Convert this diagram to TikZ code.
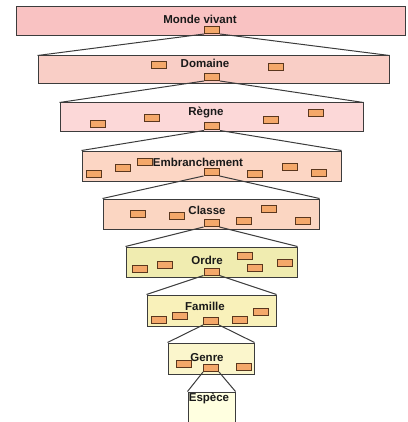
\documentclass[tikz,border=0pt]{standalone}
\usepackage{fontspec}
\setmainfont{Liberation Sans}
\definecolor{cMonde}{RGB}{249,194,194}
\definecolor{cDom}{RGB}{249,206,198}
\definecolor{cReg}{RGB}{252,216,216}
\definecolor{cEmb}{RGB}{252,214,196}
\definecolor{cCla}{RGB}{251,214,194}
\definecolor{cOrd}{RGB}{240,236,176}
\definecolor{cFam}{RGB}{249,241,186}
\definecolor{cGen}{RGB}{251,246,204}
\definecolor{cEsp}{RGB}{255,255,224}
\definecolor{cBox}{RGB}{244,168,106}
\definecolor{cBoxLine}{RGB}{90,55,30}
\definecolor{cLine}{RGB}{60,60,60}
\tikzset{
  lvl/.style={draw=cLine, line width=1pt, inner sep=0pt},
  sb/.style={draw=cBoxLine, fill=cBox, line width=1pt, minimum width=15pt, minimum height=7pt, inner sep=0pt},
  lbl/.style={font=\bfseries\fontsize{11.5}{13}\selectfont, text=black!90, inner sep=0pt},
  link/.style={draw=cLine, line width=1pt}
}
\begin{document}
\begin{tikzpicture}[x=1pt,y=-1pt]
\useasboundingbox (0,0) rectangle (407,422);
% level rectangles
\node[lvl, fill=cMonde, minimum width=389pt, minimum height=29pt] (r1) at (210.5,21.5) {};
\node[lvl, fill=cDom, minimum width=351pt, minimum height=28pt] (r2) at (213.5,70) {};
\node[lvl, fill=cReg, minimum width=303pt, minimum height=29pt] (r3) at (211.5,117.5) {};
\node[lvl, fill=cEmb, minimum width=259pt, minimum height=30pt] (r4) at (211.5,166) {};
\node[lvl, fill=cCla, minimum width=216pt, minimum height=30pt] (r5) at (211,214) {};
\node[lvl, fill=cOrd, minimum width=171pt, minimum height=30pt] (r6) at (211.5,262) {};
\node[lvl, fill=cFam, minimum width=129pt, minimum height=31pt] (r7) at (211.5,310.5) {};
\node[lvl, fill=cGen, minimum width=86pt, minimum height=31pt] (r8) at (211,358.5) {};
\node[lvl, fill=cEsp, minimum width=47pt, minimum height=34pt] (r9) at (211.5,409) {};
% labels
\node[lbl] (t1) at (200,19) {Monde vivant};
\node[lbl] (t2) at (205,63) {Domaine};
\node[lbl] (t3) at (206,113) {Règne};
\node[lbl] (t4) at (198,162) {Embranchement};
\node[lbl] (t5) at (207,210) {Classe};
\node[lbl] (t6) at (207,260) {Ordre};
\node[lbl] (t7) at (205,306) {Famille};
\node[lbl] (t8) at (207,358) {Genre};
\node[lbl] (t9) at (209,398) {Espèce};
% central boxes
\node[sb] (c1) at (212,30) {};
\node[sb] (c2) at (212,77) {};
\node[sb] (c3) at (212,126.5) {};
\node[sb] (c4) at (211.5,172) {};
\node[sb] (c5) at (211.5,223) {};
\node[sb] (c6) at (211.5,271.5) {};
\node[sb] (c7) at (211,321) {};
\node[sb] (c8) at (211,368) {};
% links
\draw[link] (c1.south west) -- (r2.north west) (c1.south east) -- (r2.north east);
\draw[link] (c2.south west) -- (r3.north west) (c2.south east) -- (r3.north east);
\draw[link] (c3.south west) -- (r4.north west) (c3.south east) -- (r4.north east);
\draw[link] (c4.south west) -- (r5.north west) (c4.south east) -- (r5.north east);
\draw[link] (c5.south west) -- (r6.north west) (c5.south east) -- (r6.north east);
\draw[link] (c6.south west) -- (r7.north west) (c6.south east) -- (r7.north east);
\draw[link] (c7.south west) -- (r8.north west) (c7.south east) -- (r8.north east);
\draw[link] (c8.south west) -- (r9.north west) (c8.south east) -- (r9.north east);
% other boxes
\node[sb] (d1) at (159,65) {};
\node[sb] (d2) at (276,67.5) {};
\node[sb] (g1) at (98,124) {};
\node[sb] (g2) at (152,118) {};
\node[sb] (g3) at (271,120) {};
\node[sb] (g4) at (316,113) {};
\node[sb] (e1) at (93.5,174) {};
\node[sb] (e2) at (122.5,168) {};
\node[sb] (e3) at (145,162) {};
\node[sb] (e4) at (254.5,174) {};
\node[sb] (e5) at (290,167) {};
\node[sb] (e6) at (319,172.5) {};
\node[sb] (k1) at (137.5,214) {};
\node[sb] (k2) at (177,216) {};
\node[sb] (k3) at (244,220.5) {};
\node[sb] (k4) at (269,209) {};
\node[sb] (k5) at (303,220.5) {};
\node[sb] (o1) at (139.5,269) {};
\node[sb] (o2) at (165,264.5) {};
\node[sb] (o3) at (245,256) {};
\node[sb] (o4) at (255,268) {};
\node[sb] (o5) at (284.5,263) {};
\node[sb] (f1) at (158.5,319.5) {};
\node[sb] (f2) at (180,316) {};
\node[sb] (f3) at (240,320) {};
\node[sb] (f4) at (261,312) {};
\node[sb] (n1) at (184,364) {};
\node[sb] (n2) at (244,366.5) {};
\end{tikzpicture}
\end{document}
